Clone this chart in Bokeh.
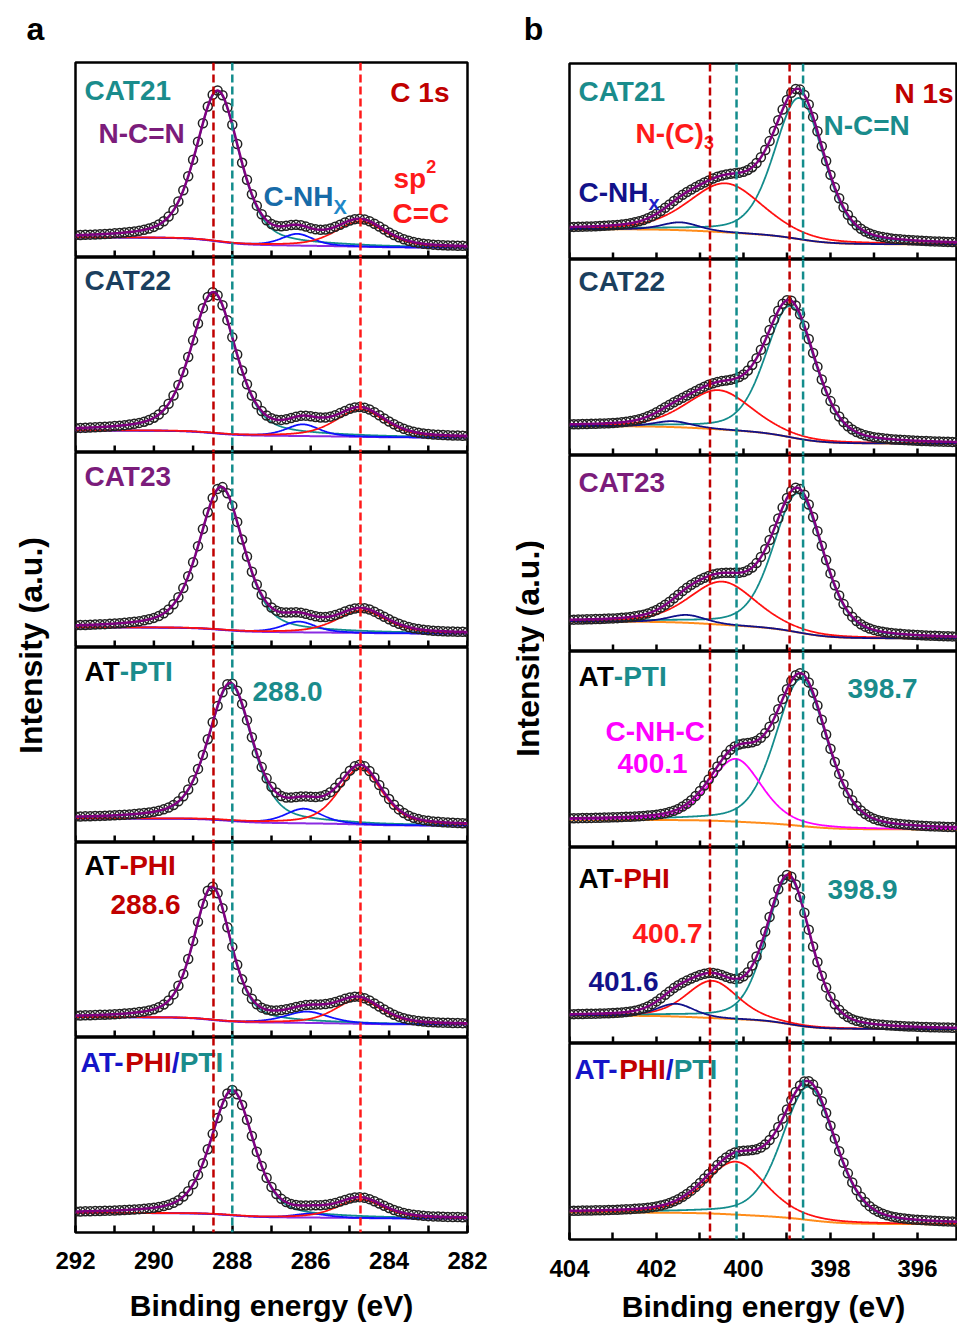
import numpy as np
from bokeh.plotting import figure
from bokeh.layouts import row, column
from bokeh.models import Span, FixedTicker, Range1d
from bokeh.embed import file_html
from bokeh.resources import INLINE
from bokeh.core.properties import value

FONT = "Liberation Sans"

# ---------------- C 1s data (heights as fraction of panel height) ----------------
c_samples = ["CAT21", "CAT22", "CAT23", "AT-PTI", "AT-PHI", "AT-PHI/PTI"]
c_ncn_pos = [288.37, 288.48, 288.28, 288.05, 288.51, 288.00]
c_ncn_amp = [0.77, 0.72, 0.73, 0.70, 0.68, 0.64]
c_ncn_fwhm = [1.31, 1.35, 1.35, 1.32, 1.12, 1.28]
c_nhx_pos = [286.34, 286.20, 286.30, 286.18, 286.10, 286.00]
c_nhx_amp = [0.060, 0.060, 0.055, 0.075, 0.058, 0.020]
c_nhx_fwhm = [0.95, 1.00, 1.00, 1.10, 1.30, 1.00]
c_cc_pos = [284.73, 284.73, 284.70, 284.73, 284.78, 284.73]
c_cc_amp = [0.13, 0.14, 0.115, 0.29, 0.125, 0.095]
c_cc_fwhm = [1.50, 1.50, 1.50, 1.30, 1.40, 1.40]
c_bg_hi = [0.103, 0.113, 0.103, 0.123, 0.104, 0.100]
c_bg_lo = [0.051, 0.077, 0.072, 0.087, 0.067, 0.072]
c_eta = 0.45
c_step = 0.125
c_xlim = [292.0, 282.0]
c_major = [292, 290, 288, 286, 284, 282]
c_minor = [291, 289, 287, 285, 283]
c_refs = [288.48, 288.0, 284.73]

# ---------------- N 1s data ----------------
n_samples = ["CAT21", "CAT22", "CAT23", "AT-PTI", "AT-PHI", "AT-PHI/PTI"]
n_ncn_pos = [398.72, 398.92, 398.74, 398.67, 398.96, 398.50]
n_ncn_amp = [0.72, 0.67, 0.71, 0.75, 0.75, 0.68]
n_ncn_fwhm = [1.35, 1.35, 1.35, 1.40, 1.20, 1.45]
n_c3_pos = [400.41, 400.57, 400.48, 400.18, 400.72, 400.18]
n_c3_amp = [0.25, 0.20, 0.22, 0.32, 0.19, 0.27]
n_c3_fwhm = [2.00, 1.80, 1.80, 1.40, 1.40, 1.65]
n_nhx_pos = [401.45, 401.63, 401.30, 401.50, 401.56, 401.50]
n_nhx_amp = [0.040, 0.030, 0.040, 0.0, 0.065, 0.0]
n_nhx_fwhm = [1.0, 1.0, 1.0, 1.0, 1.0, 1.0]
n_bg_hi = [0.155, 0.150, 0.153, 0.141, 0.142, 0.138]
n_bg_lo = [0.077, 0.060, 0.066, 0.092, 0.073, 0.078]
n_eta = 0.35
n_step = 0.1
n_xlim = [404.0, 395.08]
n_major = [404, 402, 400, 398, 396]
n_minor = [403, 401, 399, 397]
n_refs = [400.77, 400.16, 398.94, 398.63]

# ---------------- colours ----------------
TEAL_T = "#1A8C8C"
CAT22_T = "#1B3F5E"
PURP_T = "#7B1C7B"
DRED = "#C00000"
RED = "#FF1A1A"
CBLUE = "#176BA8"
NAVY = "#12128A"
MAG = "#FF00FF"
BLUE_AT = "#1414C8"

ENV = "#800080"
C_BG = "#8A2BE2"
N_BG = "#FF8C1A"
TEAL_L = "#138C8C"
BLUE_L = "#1010FF"
RED_L = "#FF1010"
NAVY_L = "#10108A"

WB = {' ': 278, '(': 333, ')': 333, '-': 333, '.': 278, '/': 278, '=': 584,
      'A': 722, 'C': 722, 'H': 722, 'I': 278, 'N': 722, 'P': 667, 'T': 611,
      'X': 667, 'a': 556, 'p': 611, 's': 556, 'x': 556}


def tw(s, size):
    w = sum(WB.get(ch, 556) for ch in s)
    if "AT" in s:
        w -= 70
    return w * size / 1000.0


def pv(x, c, a, w, eta):
    d = (x - c) / w
    return a * ((1 - eta) * np.exp(-4 * np.log(2) * d * d) + eta / (1 + 4 * d * d))


def shirley(x, peaks, b_hi, b_lo):
    order = np.argsort(x)
    xs = x[order]
    ys = peaks[order]
    cum = np.concatenate([[0.0], np.cumsum(0.5 * (ys[1:] + ys[:-1]) * np.diff(xs))])
    frac = cum / cum[-1]
    out = np.empty_like(frac)
    out[order] = b_lo + (b_hi - b_lo) * frac
    return out


def model(x, comps, b_hi, b_lo, eta):
    parts = [pv(x, c, a, w, eta) for (c, a, w) in comps]
    total = np.sum(parts, axis=0)
    bg = shirley(x, total, b_hi, b_lo)
    return parts, bg, bg + total


def style_bottom_axis(p, major, minor):
    ax = p.xaxis[0]
    ax.ticker = FixedTicker(ticks=major, minor_ticks=minor)
    ax.major_tick_in = 7
    ax.major_tick_out = 0
    ax.minor_tick_in = 7
    ax.minor_tick_out = 0
    ax.major_tick_line_width = 2.5
    ax.minor_tick_line_width = 2.5
    ax.axis_line_color = None
    ax.major_label_text_font = FONT
    ax.major_label_text_font_style = "bold"
    ax.major_label_text_font_size = "24px"
    ax.major_label_text_color = "black"
    ax.axis_label = "Binding energy (eV)"
    ax.axis_label_text_font = FONT
    ax.axis_label_text_font_style = "bold"
    ax.axis_label_text_font_size = "30px"
    ax.axis_label_text_color = "black"


def add_txt(p, g, k, px, py, s, color, size=28, align="left"):
    x0, x1 = g["xlim"]
    xd = x0 + (px - g["left"]) / g["w"] * (x1 - x0)
    yd = 1 - (py - (g["top"] + k * g["h"])) / g["h"]
    p.text(x=[xd], y=[yd], text=[s], text_color=color, text_font=value(FONT),
           text_font_style="bold", text_font_size="%dpx" % size,
           text_align=align, text_baseline="middle")


def add_pieces(p, g, k, px, py, pieces, size=28):
    for s, col in pieces:
        add_txt(p, g, k, px, py, s, col, size)
        px += tw(s, size)


def name_pieces(name):
    if name == "AT-PTI":
        return [("AT", "black"), ("-PTI", TEAL_T)]
    if name == "AT-PHI":
        return [("AT", "black"), ("-PHI", DRED)]
    if name == "AT-PHI/PTI":
        return [("AT-", BLUE_AT), ("PHI", DRED), ("/", BLUE_AT), ("PTI", TEAL_T)]
    col = {"CAT21": TEAL_T, "CAT22": CAT22_T, "CAT23": PURP_T}[name]
    return [(name, col)]


def build_panel(kind):
    if kind == "C":
        g = dict(xlim=c_xlim, left=75.0, w=392.0, top=62.0, h=194.7)
        FW, FH, BL, BR, TOP = 392, 195, 25, 25, 62
        major, minor, refs = c_major, c_minor, c_refs
        ref_cols = [DRED, TEAL_L, RED]
        step, eta = c_step, c_eta
        name_x = [84, 84, 84, 84, 84, 80]
        name_y = [90, 280, 475, 670, 864, 1060]
        samples = c_samples
        lab_so, axl_so = 19, 17
    else:
        g = dict(xlim=n_xlim, left=569.0, w=388.0, top=63.0, h=195.7)
        FW, FH, BL, BR, TOP = 388, 196, 25, 0, 63
        major, minor, refs = n_major, n_minor, n_refs
        ref_cols = [DRED, TEAL_L, DRED, TEAL_L]
        step, eta = n_step, n_eta
        name_x = [578, 578, 578, 578, 578, 574]
        name_y = [91, 281, 481, 675, 877, 1067]
        samples = n_samples
        lab_so, axl_so = 20, 10
    x0, x1 = g["xlim"]
    xfine = np.linspace(x0, x1, 700)
    xpts = np.arange(x0, x1 - 1e-9, -step)
    tick_pos = list(major) + list(minor)
    figs = []
    for k in range(6):
        top = k == 0
        bottom = k == 5
        p = figure(frame_width=FW, frame_height=FH, x_range=Range1d(x0, x1),
                   y_range=Range1d(0, 1), output_backend="svg", toolbar_location=None,
                   y_axis_location=None, x_axis_location="below" if bottom else None,
                   min_border_left=BL, min_border_right=BR,
                   min_border_top=TOP if top else 0, min_border_bottom=0)
        p.grid.visible = False
        p.outline_line_color = "black"
        p.outline_line_width = 2.5
        p.background_fill_color = "white"
        p.border_fill_color = "white"
        if bottom:
            style_bottom_axis(p, major, minor)
            ax = p.xaxis[0]
            ax.major_label_standoff = lab_so
            ax.axis_label_standoff = axl_so
        else:
            # inward tick marks at the bottom of stacked panels (same ticks as the axis)
            p.segment(x0=tick_pos, y0=[0.0] * len(tick_pos), x1=tick_pos,
                      y1=[7.0 / FH] * len(tick_pos), line_color="black", line_width=2.5)

        if kind == "C":
            comps = [(c_ncn_pos[k], c_ncn_amp[k], c_ncn_fwhm[k]),
                     (c_nhx_pos[k], c_nhx_amp[k], c_nhx_fwhm[k]),
                     (c_cc_pos[k], c_cc_amp[k], c_cc_fwhm[k])]
            cols = [TEAL_L, BLUE_L, RED_L]
            bhi, blo, bgcol = c_bg_hi[k], c_bg_lo[k], C_BG
        else:
            third_col = MAG if samples[k] == "AT-PTI" else RED_L
            comps = [(n_ncn_pos[k], n_ncn_amp[k], n_ncn_fwhm[k]),
                     (n_c3_pos[k], n_c3_amp[k], n_c3_fwhm[k]),
                     (n_nhx_pos[k], n_nhx_amp[k], n_nhx_fwhm[k])]
            cols = [TEAL_L, third_col, NAVY_L]
            bhi, blo, bgcol = n_bg_hi[k], n_bg_lo[k], N_BG
        parts, bg, env = model(xfine, comps, bhi, blo, eta)
        _, _, env_pts = model(xpts, comps, bhi, blo, eta)
        p.line(xfine, bg, line_color=bgcol, line_width=2)
        for part, col, cp in zip(parts, cols, comps):
            if cp[1] > 0:
                p.line(xfine, bg + part, line_color=col, line_width=1.8)
        p.scatter(xpts, env_pts, marker="circle", size=9, fill_color=None,
                  line_color="#222222", line_width=1.5)
        p.line(xfine, env, line_color=ENV, line_width=2.5)
        for loc, col in zip(refs, ref_cols):
            p.add_layout(Span(location=loc, dimension="height", line_color=col,
                              line_width=2.5, line_dash="8 4"))
        add_pieces(p, g, k, name_x[k], name_y[k], name_pieces(samples[k]))
        figs.append(p)

    f = figs
    if kind == "C":
        add_txt(f[0], g, 0, 98, 133, "N-C=N", PURP_T)
        add_txt(f[0], g, 0, 263, 196, "C-NH", CBLUE)
        add_txt(f[0], g, 0, 263 + tw("C-NH", 28), 206, "X", "#1E88C8", 20)
        add_txt(f[0], g, 0, 449, 92, "C 1s", DRED, 28, "right")
        add_txt(f[0], g, 0, 393, 178, "sp", RED)
        add_txt(f[0], g, 0, 393 + tw("sp", 28), 166, "2", RED, 18)
        add_txt(f[0], g, 0, 392, 213, "C=C", RED)
        add_txt(f[3], g, 3, 252, 690, "288.0", TEAL_T)
        add_txt(f[4], g, 4, 110, 903, "288.6", DRED)
    else:
        add_txt(f[0], g, 0, 894, 93, "N 1s", DRED)
        add_txt(f[0], g, 0, 635, 133, "N-(C)", RED)
        add_txt(f[0], g, 0, 635 + tw("N-(C)", 28), 142, "3", RED, 18)
        add_txt(f[0], g, 0, 823, 125, "N-C=N", TEAL_T)
        add_txt(f[0], g, 0, 578, 192, "C-NH", NAVY)
        add_txt(f[0], g, 0, 578 + tw("C-NH", 28), 202, "x", "#1E1EC8", 20)
        add_txt(f[3], g, 3, 847, 687, "398.7", TEAL_T)
        add_txt(f[3], g, 3, 605, 730, "C-NH-C", MAG)
        add_txt(f[3], g, 3, 617, 762, "400.1", MAG)
        add_txt(f[4], g, 4, 827, 888, "398.9", TEAL_T)
        add_txt(f[4], g, 4, 632, 932, "400.7", RED)
        add_txt(f[4], g, 4, 588, 980, "401.6", NAVY)
    return column(*figs)


def label_fig(width, height, letter, lx, ly, ix, iy):
    p = figure(frame_width=width, frame_height=height, x_range=Range1d(0, width),
               y_range=Range1d(height, 0), output_backend="svg", toolbar_location=None,
               x_axis_location=None, y_axis_location=None, min_border=0)
    p.grid.visible = False
    p.outline_line_color = None
    p.text(x=[lx], y=[ly], text=[letter], text_font=value(FONT), text_font_style="bold",
           text_font_size="32px", text_color="black", text_align="center",
           text_baseline="middle")
    p.text(x=[ix], y=[iy], text=["Intensity (a.u.)"], text_font=value(FONT),
           text_font_style="bold", text_font_size="32px", text_color="black",
           text_align="center", text_baseline="middle", angle=np.pi / 2)
    return p


labA = label_fig(50, 1200, "a", 35, 28, 30, 645)
labB = label_fig(52, 1200, "b", 41, 28, 35, 648)
panelA = build_panel("C")
panelB = build_panel("N")

layout = row(labA, panelA, labB, panelB)
open("out.html", "w").write(file_html(layout, INLINE))
